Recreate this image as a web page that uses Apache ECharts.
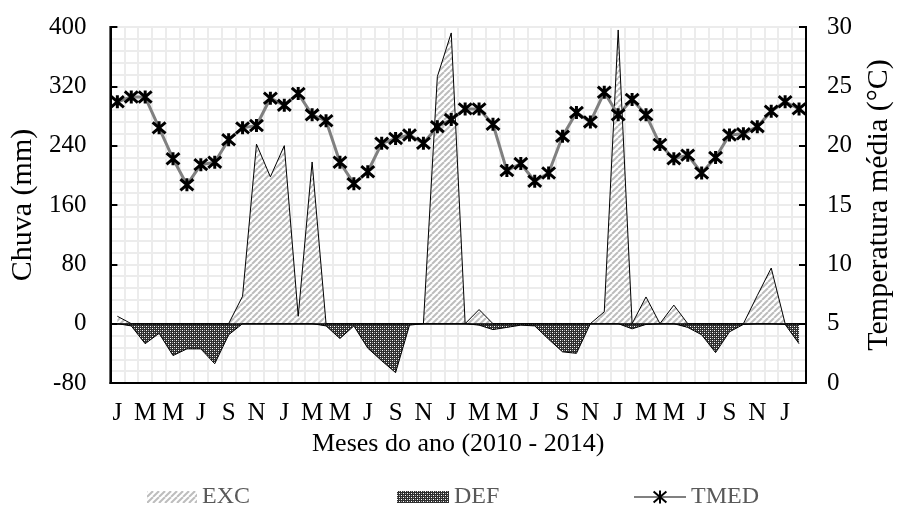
<!DOCTYPE html>
<html lang="pt">
<head>
  <meta charset="UTF-8">
  <title>Chuva e temperatura</title>
  <style>
    html, body { margin: 0; padding: 0; background: #fff; }
  </style>
</head>
<body>
  <div id="main" style="width:902px;height:506px;"></div>
  <script src="https://cdn.jsdelivr.net/npm/echarts/dist/echarts.min.js"></script>
  <script>
    // meses jan/2010 .. fev/2014
    var months = ['J','F','M','A','M','J','J','A','S','O','N','D',
                  'J','F','M','A','M','J','J','A','S','O','N','D',
                  'J','F','M','A','M','J','J','A','S','O','N','D',
                  'J','F','M','A','M','J','J','A','S','O','N','D',
                  'J','F'];

    // excedente hidrico (mm)
    var exc = [10, 0, 0, 0, 0, 0, 0, 0, 0, 37,
               242, 198, 240, 10, 218, 0, 0, 0, 0, 0,
               0, 0, 0, 333, 392, 0, 19, 0, 0, 0,
               0, 0, 0, 0, 0, 16, 396, 0, 36, 0,
               25, 0, 0, 0, 0, 0, 38, 75, 0, 0];

    // deficit hidrico (mm)
    var def = [0, -3, -27, -13, -43, -34, -34, -54, -15, 0,
               0, 0, 0, 0, 0, -3, -20, -3, -33, -50,
               -66, -2, 0, 0, 0, 0, -2, -8, -5, -2,
               -3, -21, -38, -40, 0, 0, 0, -7, -1, 0,
               0, -5, -15, -39, -11, -1, 0, 0, -1, -27];

    // temperatura media (C)
    var tmed = [23.7, 24.1, 24.1, 21.5, 18.9, 16.7, 18.4, 18.6, 20.5, 21.5,
                21.7, 24.0, 23.4, 24.4, 22.6, 22.1, 18.6, 16.8, 17.8, 20.2,
                20.6, 20.9, 20.2, 21.6, 22.2, 23.1, 23.1, 21.8, 17.9, 18.5,
                17.0, 17.7, 20.8, 22.8, 22.0, 24.5, 22.6, 23.9, 22.6, 20.1,
                18.9, 19.2, 17.7, 19.0, 20.9, 21.0, 21.6, 22.9, 23.7, 23.1];

    var FONT = 'Liberation Serif';
    var STAR = 'path://M0 0L12 12M12 0L0 12M6 -1L6 13';

    // padroes de preenchimento (hachura e pontilhado)
    function hatch() {
      var c = document.createElement('canvas');
      c.width = 6; c.height = 6;
      var g = c.getContext('2d');
      g.fillStyle = '#fff';
      g.fillRect(0, 0, 6, 6);
      g.strokeStyle = '#bdbdbd';
      g.lineWidth = 2;
      [-6, 0, 6].forEach(function (k) {
        g.beginPath(); g.moveTo(k, 6); g.lineTo(k + 6, 0); g.stroke();
      });
      return c;
    }
    function dots() {
      var c = document.createElement('canvas');
      c.width = 4; c.height = 4;
      var g = c.getContext('2d');
      g.fillStyle = '#2e2e2e';
      g.fillRect(0, 0, 4, 4);
      g.fillStyle = '#fff';
      g.fillRect(0, 0, 1, 1); g.fillRect(2, 2, 1, 1);
      g.fillStyle = '#a0a0a0';
      g.fillRect(2, 0, 1, 1); g.fillRect(0, 2, 1, 1);
      return c;
    }
    var excFill = { image: hatch(), repeat: 'repeat' };
    var defFill = { image: dots(), repeat: 'repeat' };

    var legendText = { fontFamily: FONT, fontSize: 24, color: '#595959' };
    var gridColor = '#ececec';

    var myChart = echarts.init(document.getElementById('main'));

    myChart.setOption({
      animation: false,
      backgroundColor: '#fff',
      textStyle: { fontFamily: FONT },
      grid: { left: 107, right: 85, top: 27, bottom: 123, show: true, borderColor: '#000', borderWidth: 2 },
      legend: [
        { left: 142, top: 480, itemWidth: 50, itemHeight: 12, textStyle: legendText,
          data: [{ name: 'EXC', icon: 'rect', itemStyle: { color: excFill } }] },
        { left: 392, top: 480, itemWidth: 52, itemHeight: 12, textStyle: legendText,
          data: [{ name: 'DEF', icon: 'rect', itemStyle: { color: defFill } }] },
        { left: 628, top: 480, itemWidth: 52, itemHeight: 16, textStyle: legendText,
          data: [{ name: 'TMED' }] }
      ],
      xAxis: {
        type: 'category',
        data: months,
        boundaryGap: true,
        name: 'Meses do ano (2010 - 2014)',
        nameLocation: 'middle',
        nameGap: 46,
        nameTextStyle: { fontFamily: FONT, fontSize: 26, color: '#000' },
        axisLine: { onZero: false, lineStyle: { color: '#000', width: 2 } },
        axisTick: { show: false },
        axisLabel: { interval: 1, fontFamily: FONT, fontSize: 25, color: '#000', margin: 18 },
        splitLine: { show: true, interval: 0, lineStyle: { color: gridColor, width: 2 } }
      },
      yAxis: [{
        type: 'value',
        min: -80, max: 400, interval: 80,
        name: 'Chuva (mm)',
        nameLocation: 'middle',
        nameGap: 70,
        nameTextStyle: { fontFamily: FONT, fontSize: 30, color: '#000' },
        axisLine: { show: true, lineStyle: { color: '#000', width: 2 } },
        axisTick: { show: true, inside: true, length: 7, lineStyle: { color: '#000', width: 2 } },
        axisLabel: { fontFamily: FONT, fontSize: 25, color: '#000', margin: 24 },
        splitLine: { show: true, lineStyle: { color: gridColor, width: 2 } },
        minorTick: { show: false, splitNumber: 5 },
        minorSplitLine: { show: true, lineStyle: { color: gridColor, width: 2 } }
      }, {
        type: 'value',
        position: 'right',
        min: 0, max: 30, interval: 5,
        name: 'Temperatura média (°C)',
        nameLocation: 'middle',
        nameGap: 58,
        nameTextStyle: { fontFamily: FONT, fontSize: 30, color: '#000' },
        axisLine: { show: true, lineStyle: { color: '#000', width: 2 } },
        axisTick: { show: true, inside: true, length: 7, lineStyle: { color: '#000', width: 2 } },
        axisLabel: { fontFamily: FONT, fontSize: 25, color: '#000', margin: 21 },
        splitLine: { show: false }
      }],
      series: [{
        name: 'EXC',
        type: 'line',
        data: exc,
        symbol: 'none',
        lineStyle: { color: '#000', width: 1 },
        itemStyle: { color: '#bbb' },
        areaStyle: { color: excFill, opacity: 1 },
        z: 2
      }, {
        name: 'DEF',
        type: 'line',
        data: def,
        symbol: 'none',
        lineStyle: { color: '#000', width: 1 },
        itemStyle: { color: '#333' },
        areaStyle: { color: defFill, opacity: 1 },
        markLine: {
          silent: true,
          symbol: 'none',
          label: { show: false },
          lineStyle: { color: '#000', width: 1.5, type: 'solid' },
          data: [{ yAxis: 0 }]
        },
        z: 3
      }, {
        name: 'TMED',
        type: 'line',
        yAxisIndex: 1,
        data: tmed,
        symbol: STAR,
        symbolSize: 13,
        showAllSymbol: true,
        lineStyle: { color: '#808080', width: 3 },
        itemStyle: { color: '#000', borderColor: '#000', borderWidth: 3 },
        z: 5
      }]
    });
  </script>
</body>
</html>
